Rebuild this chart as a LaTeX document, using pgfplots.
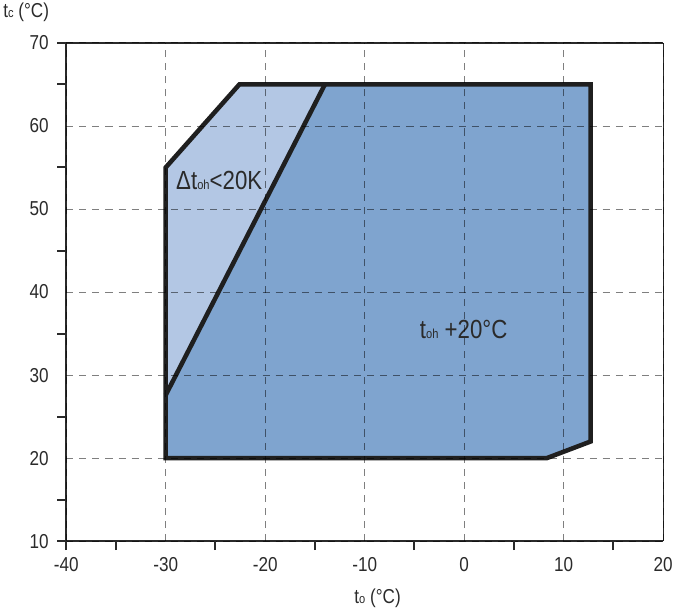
\documentclass[border=0pt]{standalone}
\usepackage{pgfplots}
\pgfplotsset{compat=1.18}
\usepackage{fontspec}
\setmainfont{Liberation Sans}[FakeStretch=0.85]
\definecolor{darkb}{HTML}{7FA4CF}
\definecolor{lightb}{HTML}{B3C7E4}
\definecolor{txt}{HTML}{2A2A2A}
\newcommand{\sm}[1]{{\fontsize{13}{13}\selectfont #1}}
\begin{document}
\begin{tikzpicture}
\begin{axis}[
  scale only axis, width=593pt, height=495pt,
  xmin=-40, xmax=20, ymin=10, ymax=70,
  xtick={-40,-30,...,20}, ytick={10,20,...,70},
  minor xtick={-40,-35,-25,-15,-5,5,15},
  minor ytick={10,15,25,35,45,55,65,70},
  major tick length=0pt, minor tick length=9pt, tick align=outside,
  tick pos=left,
  minor tick style={line width=2pt, color=txt},
  xmajorgrids, ymajorgrids,
  major grid style={black, opacity=0.5, dash pattern=on 7pt off 6pt, line width=0.9pt},
  axis line style={draw=none},
  axis on top,
  ticklabel style={font=\fontsize{20}{24}\selectfont, text=txt},
  /pgf/number format/assume math mode=true,
  xticklabel style={yshift=-13pt},
  yticklabel style={xshift=-14pt},
  clip=false,
]
\addplot[fill=darkb, draw=none] coordinates {(-30,20) (8.3,20) (12.7,22) (12.7,65) (-22.6,65) (-30,55)} --cycle;
\addplot[fill=lightb, draw=none] coordinates {(-30,55) (-22.6,65) (-14,65) (-30,27.6)} --cycle;
\addplot[line width=4.5pt, color=black!88, line join=miter, mark=none] coordinates {(-30,20) (8.3,20) (12.7,22) (12.7,65) (-22.6,65) (-30,55)} --cycle;
\addplot[line width=4.5pt, color=black!88, mark=none] coordinates {(-30,27.6) (-14,65)};
\draw[line width=2.4pt, txt] (rel axis cs:0,1) -- (rel axis cs:0,0) -- (rel axis cs:1,0);
\draw[line width=2.4pt, txt] (rel axis cs:0,1) -- (rel axis cs:1,1);
\draw[line width=1.2pt, txt] (rel axis cs:1,1) -- (rel axis cs:1,0);
\node[anchor=west, text=txt, font=\fontsize{26}{28}\selectfont] at (axis cs:-29.3,53.4) {Δt\sm{oh}<20K};
\node[anchor=west, text=txt, font=\fontsize{26}{28}\selectfont] at (axis cs:-4.8,35.5) {t\sm{oh} +20°C};
\node[anchor=west, text=txt, font=\fontsize{20}{24}\selectfont] at ([xshift=-66pt, yshift=30pt]rel axis cs:0,1) {t\sm{c} (°C)};
\node[text=txt, font=\fontsize{20}{24}\selectfont] at ([yshift=-57pt]axis cs:-8.7,10) {t\sm{o} (°C)};
\end{axis}
\end{tikzpicture}
\end{document}
